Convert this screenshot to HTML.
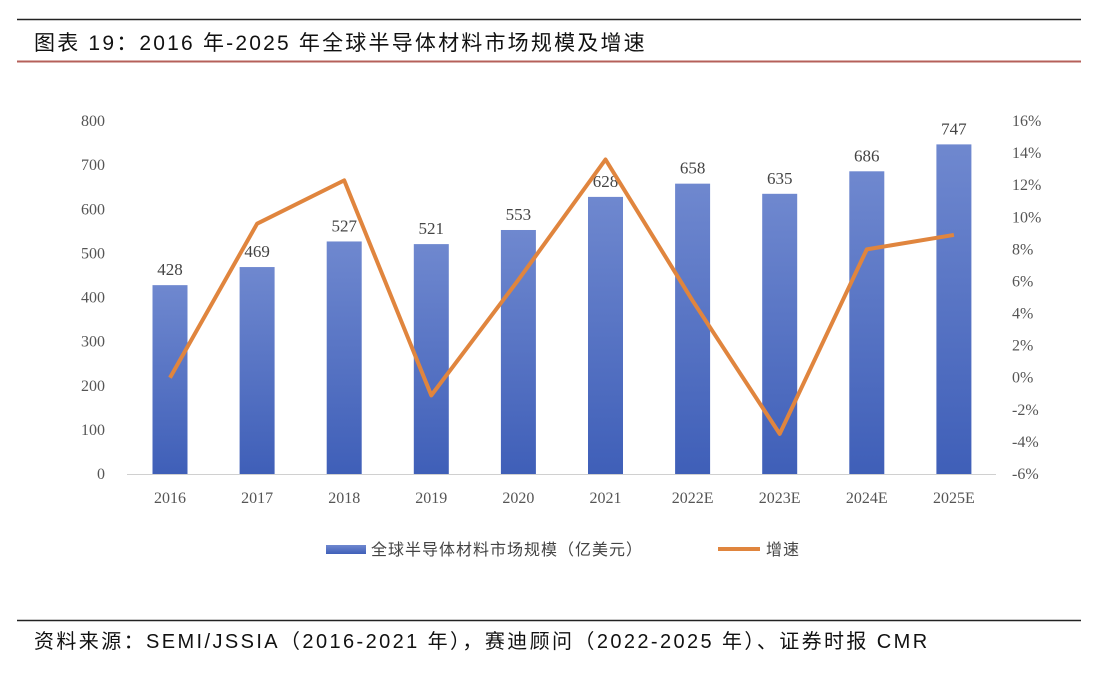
<!DOCTYPE html>
<html><head><meta charset="utf-8"><style>
body{margin:0;background:#fff;width:1108px;height:684px;overflow:hidden;font-family:"Liberation Serif","Noto Serif CJK SC",serif;}
</style></head><body>
<svg width="1108" height="684" xmlns="http://www.w3.org/2000/svg">
<defs><linearGradient id="bg" x1="0" y1="0" x2="0" y2="1"><stop offset="0" stop-color="#6f88cf"/><stop offset="1" stop-color="#3f5fb8"/></linearGradient></defs>
<line x1="17" y1="19.5" x2="1081" y2="19.5" stroke="#222" stroke-width="1.5"/>
<text x="34" y="50" font-size="21" letter-spacing="2.2" fill="#111" font-family="'Liberation Sans','Noto Sans CJK SC',sans-serif">图表 19：2016 年-2025 年全球半导体材料市场规模及增速</text>
<line x1="17" y1="61.5" x2="1081" y2="61.5" stroke="#b5605a" stroke-width="2"/>
<g id="plot"></g>
<g>
<rect x="326" y="545" width="40" height="9" fill="url(#bg)"/>
<text x="371" y="555" font-size="16" letter-spacing="1" fill="#444" font-family="'Liberation Sans','Noto Sans CJK SC',sans-serif">全球半导体材料市场规模（亿美元）</text>
<line x1="718" y1="549" x2="760" y2="549" stroke="#e0853e" stroke-width="4"/>
<text x="766" y="555" font-size="16" letter-spacing="1" fill="#444" font-family="'Liberation Sans','Noto Sans CJK SC',sans-serif">增速</text>
</g>
<line x1="17" y1="620.5" x2="1081" y2="620.5" stroke="#222" stroke-width="1.5"/>
<text x="34" y="648" font-size="20" letter-spacing="2.4" fill="#111" font-family="'Liberation Sans','Noto Sans CJK SC',sans-serif">资料来源：SEMI/JSSIA（2016-2021 年），赛迪顾问（2022-2025 年）、证券时报 CMR</text>
</svg>
<script>
const categories=["2016","2017","2018","2019","2020","2021","2022E","2023E","2024E","2025E"];
const sizes=[428,469,527,521,553,628,658,635,686,747];
const growth=[0,9.6,12.3,-1.1,6.1,13.6,4.8,-3.5,8.0,8.9];
const leftTicks=[0,100,200,300,400,500,600,700,800];
const rightTicks=[-6,-4,-2,0,2,4,6,8,10,12,14,16];
const NS="http://www.w3.org/2000/svg";
const g=document.getElementById('plot');
const y0=474,yTop=121;
const yL=v=>y0-(v/800)*(y0-yTop);
const yR=v=>y0-((v+6)/22)*(y0-yTop);
const xC=i=>170+i*87.1;
function mk(t,a){const e=document.createElementNS(NS,t);for(const k in a)e.setAttribute(k,a[k]);g.appendChild(e);return e;}
leftTicks.forEach(v=>{const e=mk('text',{x:105,y:yL(v)+5,'font-size':16,fill:'#555','text-anchor':'end'});e.textContent=v;

});
rightTicks.forEach(v=>{const e=mk('text',{x:1012,y:yR(v)+5,'font-size':16,fill:'#555'});e.textContent=v+'%';

});
const ax=mk('line',{x1:127,x2:996,y1:y0+.5,y2:y0+.5,stroke:'#d0d0d0'});


categories.forEach((c,i)=>{
const r=mk('rect',{x:xC(i)-17.5,y:yL(sizes[i]),width:35,height:y0-yL(sizes[i]),fill:'url(#bg)'});


const t=mk('text',{x:xC(i),y:yL(sizes[i])-10,'font-size':17,fill:'#444','text-anchor':'middle'});t.textContent=sizes[i];


const l=mk('text',{x:xC(i),y:503,'font-size':16,fill:'#555','text-anchor':'middle'});l.textContent=c;


});
const p=mk('polyline',{points:growth.map((v,i)=>xC(i)+','+yR(v)).join(' '),fill:'none',stroke:'#e0853e','stroke-width':4,'stroke-linejoin':'round'});


</script>
</body></html>
